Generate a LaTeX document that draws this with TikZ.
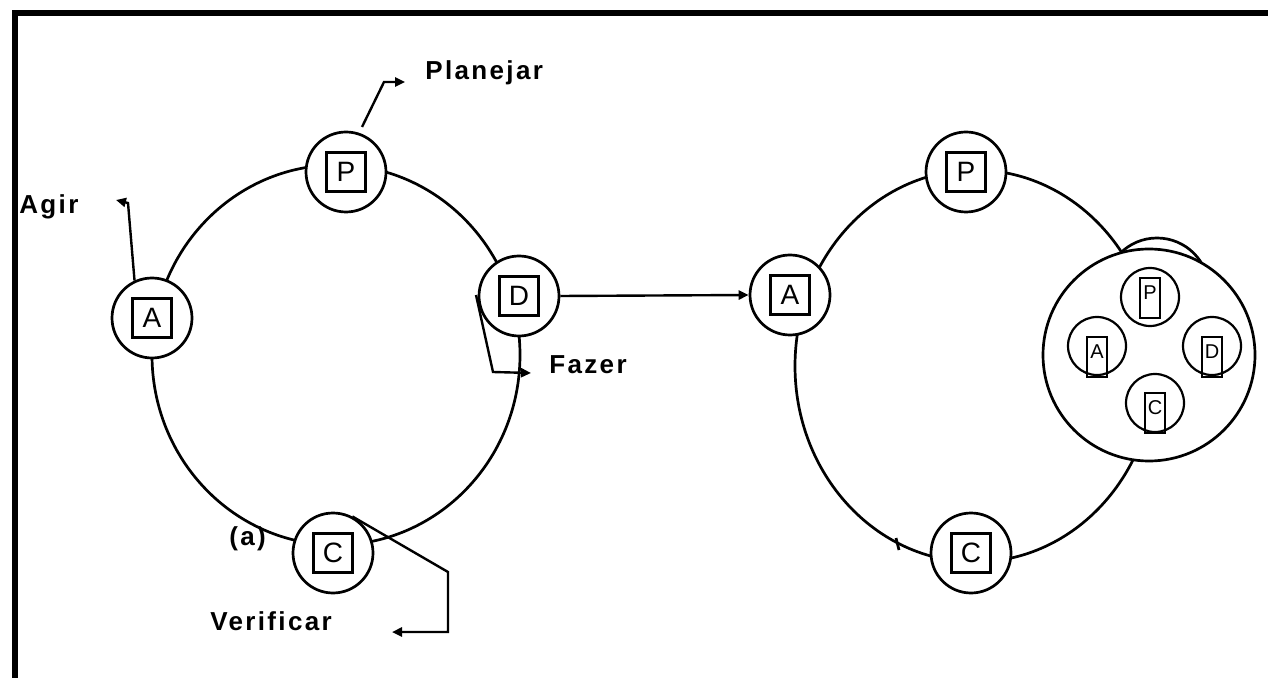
\documentclass[tikz,border=0pt]{standalone}
\usepackage{fontspec}
\setmainfont{Liberation Sans}
\newfontfamily\labelfont{Liberation Sans}[LetterSpace=9]
\usetikzlibrary{arrows.meta}

\tikzset{
  cycle/.style={line width=1.35pt},
  stage/.style={draw, circle, fill=white, line width=1.35pt, minimum size=40pt, inner sep=0pt},
  letterbox/.style={draw, line width=1.1pt, minimum size=19.5pt, inner sep=0pt,
                    font=\fontsize{14}{14}\selectfont},
  substage/.style={draw, circle, fill=white, line width=1.1pt, minimum size=29pt, inner sep=0pt},
  subbox/.style={draw, line width=0.9pt, minimum width=10pt, inner xsep=1pt, inner ysep=1pt,
                 text height=10pt, text depth=8pt, font=\fontsize{10}{10}\selectfont},
  steplabel/.style={anchor=base west, inner sep=0pt, font=\labelfont\bfseries\fontsize{13}{15}\selectfont},
  lead/.style={line width=1.2pt},
  tip/.style={-{Triangle[length=5pt,width=4.5pt]}}
}

\begin{document}
\begin{tikzpicture}[x=0.5pt, y=-0.5pt]
  \useasboundingbox (0,0) rectangle (1268,678);
  \draw[line width=3pt] (15,678) -- (15,13) -- (1268,13);

  % left cycle
  \draw[cycle] (336,355) ellipse [x radius=184, y radius=190];
  \foreach \n/\x/\y/\l in {lp/346/172/P, la/152/318/A, ld/519/296/D, lc/333/553/C} {
    \node[stage] (\n) at (\x,\y) {};
    \node[letterbox] (\n-box) at (\n) {\l};
  }

  \node[steplabel] (plan) at (425,80) {Planejar};
  \node[steplabel] (agir) at (19,214) {Agir};
  \node[steplabel] (fazer) at (549,373) {Fazer};
  \node[steplabel] (verif) at (210,630) {Verificar};
  \node[steplabel] (tag-a) at (229,545) {(a)};

  \draw[lead, tip] (362,127) -- (384,82) -- ([xshift=-10pt,yshift=-1pt]plan.base west);
  \draw[lead, tip] (la.115) -- (128,203) -- (116,200);
  \draw[lead, tip] (476,295) -- (493,372) -- ([xshift=-9pt]fazer.base west);
  \draw[lead, tip] (lc.62) -- (448,572) -- (448,632) -- (392,632);

  % right cycle
  \draw[cycle] (975,366) ellipse [x radius=180, y radius=196];
  \draw[cycle] (896,538) -- (899,550);
  \draw[cycle] (1157,290) circle [radius=52];
  \node[draw, circle, fill=white, line width=1.35pt, minimum size=106pt, inner sep=0pt] (sub) at (1149,355) {};
  \foreach \n/\x/\y/\l in {rp/966/172/P, ra/790/295/A, rc/971/553/C} {
    \node[stage] (\n) at (\x,\y) {};
    \node[letterbox] (\n-box) at (\n) {\l};
  }
  \foreach \n/\x/\y/\l/\dy in {sp/1150/297/P/-20, sa/1097/346/A/-10, sd/1212/346/D/-10, sc/1155/403/C/-11} {
    \node[substage] (\n) at (\x,\y) {};
    \node[subbox, anchor=north] (\n-box) at (\x,\y+\dy) {\l};
  }

  \draw[lead, tip] (ld.east) -- (ra.west);
\end{tikzpicture}
\end{document}
